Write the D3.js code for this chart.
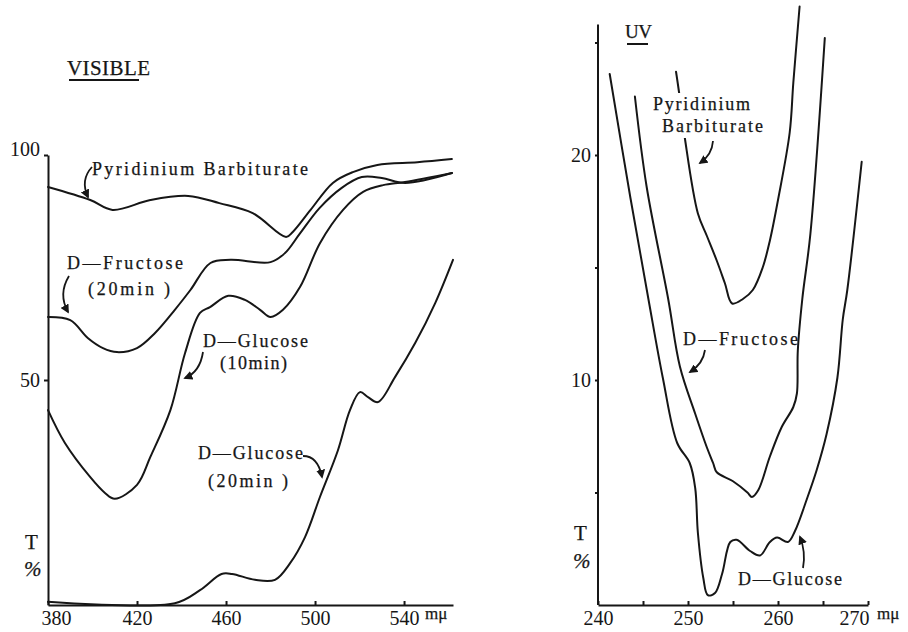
<!DOCTYPE html>
<html>
<head>
<meta charset="utf-8">
<script src="https://cdn.jsdelivr.net/npm/d3@7"></script>
<style>
  body { margin: 0; background: #fff; }
  svg { display: block; font-family: 'Liberation Serif', 'DejaVu Serif', serif; }
  .curve { fill: none; stroke: #161616; stroke-width: 2; stroke-linejoin: round; stroke-linecap: round; }
  .axis path, .axis line { stroke: #161616; stroke-width: 2; }
  .axis text { font-family: 'Liberation Serif', serif; font-size: 20px; fill: #161616; }
  .label { fill: #161616; stroke: #161616; stroke-width: 0.25; }
  .arrow { fill: none; stroke: #161616; stroke-width: 1.8; }
</style>
</head>
<body>
<svg width="908" height="632"></svg>
<script>
// ---- VISIBLE panel (wavelength mμ, transmittance %) ----
const visPyridNm = [380, 399, 409, 426, 443, 457, 472, 487, 490, 498, 508, 517, 528, 546, 561.5];
const visPyridT  = [92.9, 90, 87.8, 90, 90.9, 89.3, 87.1, 81.8, 82.9, 87.8, 93.8, 96.2, 97.8, 98.4, 99.1];

const visFrucNm = [380, 390, 398, 404.7, 411, 420, 428, 437, 444, 453, 462, 480, 486.5, 493, 502, 512, 521, 530, 540.5, 561.5];
const visFrucT  = [64, 63.3, 59.3, 57.1, 56.2, 57.1, 60.4, 65.6, 70, 76, 76.7, 76.2, 78.2, 82.4, 88.2, 92.7, 95.1, 94.9, 93.8, 96];

const visGlu10Nm = [380, 387.6, 399, 405.6, 410, 420, 426, 435, 441.6, 448.3, 452.8, 461, 468.5, 475.3, 480, 485.6, 493.3, 502.2, 512.6, 521.6, 530.6, 540.4, 561.6];
const visGlu10T  = [43.3, 36, 28.4, 24.9, 23.6, 26.7, 32.9, 43.3, 56, 64.9, 66.2, 68.7, 67.8, 65.6, 64, 65.6, 70.7, 80.4, 87.8, 91.8, 93.3, 94, 96];

const visGlu20Nm = [380, 437, 448.3, 458, 462.7, 473, 482, 488.8, 495.5, 502.2, 510.3, 515.7, 520.2, 523.8, 528.3, 536, 545, 554, 562];
const visGlu20T  = [0.7, 0.4, 3.3, 6.9, 6.9, 5.6, 5.6, 9.3, 15.1, 24, 34.4, 43.3, 47.3, 46.2, 45.1, 50.7, 58.2, 67.1, 76.7];

const visXTicks = [380, 420, 460, 500, 540];
const visYTicks = [50, 100];

// ---- UV panel ----
const uvPyridNm = [248.67, 249, 249.67, 251.1, 252.1, 253.2, 254.1, 254.9, 256.1, 257.2, 258.3, 259.1, 260, 261.3, 261.7, 262.4];
const uvPyridT  = [23.7, 22.8, 20.7, 17.4, 16.4, 15.3, 14.3, 13.4, 13.6, 14, 15, 16.2, 18, 21, 23.2, 26.6];

const uvFrucNm = [244.1, 245.4, 247.8, 249.1, 250.8, 252.1, 252.8, 253.2, 255, 256.6, 257.1, 257.8, 259.1, 260.4, 261.7, 262.1, 262.2, 262.7, 263.6, 265.2];
const uvFrucT  = [22.6, 18.6, 13.6, 10.6, 8.5, 7, 6.3, 5.9, 5.5, 5, 4.8, 5.1, 6.6, 7.9, 8.8, 9.4, 11.3, 13.6, 16.5, 25.2];

const uvGluNm = [241.3, 243.6, 245.6, 247.2, 248.8, 250.2, 250.8, 251.1, 251.7, 252.2, 253, 253.8, 254.7, 255.4, 256.9, 258, 259.1, 259.9, 261.1, 261.9, 263.2, 264.3, 265.4, 266.6, 267.2, 267.7, 269.3];
const uvGluT  = [23.6, 18.1, 13.6, 10.1, 7.2, 6.3, 5.2, 3.2, 1.2, 0.44, 0.53, 1.4, 2.8, 2.9, 2.4, 2.2, 2.8, 3, 2.8, 3.3, 4.7, 6, 7.6, 10.1, 12.7, 14, 19.7];

const uvXTicks = [240, 245, 250, 255, 260, 265, 270];
const uvYTicks = [5, 10, 15, 20, 25];

const svg = d3.select('svg');
const ink = '#161616';

svg.append('defs').append('marker')
    .attr('id', 'head')
    .attr('viewBox', '0 0 10 10')
    .attr('refX', 8).attr('refY', 5)
    .attr('markerWidth', 5).attr('markerHeight', 5)
    .attr('orient', 'auto')
  .append('path')
    .attr('d', 'M0,0 L10,5 L0,10 z')
    .attr('fill', ink);

const line = (x, y) => d3.line()
  .x(d => x(d[0]))
  .y(d => y(d[1]))
  .curve(d3.curveCatmullRom.alpha(0.5));

// ---------- left panel ----------
const xL = d3.scaleLinear().domain([380, 562]).range([48, 453]);
const yL = d3.scaleLinear().domain([0, 100]).range([605, 155]);

const gL = svg.append('g');

const yAxisL = gL.append('g').attr('class', 'axis')
  .attr('transform', `translate(${xL(380)},0)`)
  .call(d3.axisLeft(yL).tickValues(visYTicks).tickSize(4).tickSizeOuter(0).tickPadding(4));
yAxisL.selectAll('.tick text').filter(d => d === 100).attr('dy', '0');

const xAxisL = gL.append('g').attr('class', 'axis')
  .attr('transform', `translate(0,${yL(0)})`)
  .call(d3.axisBottom(xL).tickValues(visXTicks).tickSize(-4).tickSizeOuter(0).tickPadding(6));
xAxisL.selectAll('.tick text').filter(d => d === 380).attr('dx', 8);

[[visPyridNm, visPyridT], [visFrucNm, visFrucT], [visGlu10Nm, visGlu10T], [visGlu20Nm, visGlu20T]]
  .forEach(([nm, t]) => {
    gL.append('path').attr('class', 'curve').attr('d', line(xL, yL)(d3.zip(nm, t)));
  });

// ---------- right panel ----------
const xR = d3.scaleLinear().domain([240, 270]).range([598, 868]);
const yR = d3.scaleLinear().domain([0, 25.8]).range([605, 24.5]);

const gR = svg.append('g');

gR.append('g').attr('class', 'axis')
  .attr('transform', `translate(${xR(240)},0)`)
  .call(d3.axisLeft(yR).tickValues(uvYTicks).tickSize(3).tickSizeOuter(0).tickPadding(4)
    .tickFormat(d => (d % 10 === 0 ? d : '')));
gR.select('.axis .domain').attr('d', `M0,${yR(0)}V${yR(25.8)}`);

const xAxisR = gR.append('g').attr('class', 'axis')
  .attr('transform', `translate(0,${yR(0)})`)
  .call(d3.axisBottom(xR).tickValues(uvXTicks).tickSize(-4).tickSizeOuter(0).tickPadding(6)
    .tickFormat(d => (d % 10 === 0 ? d : '')));
xAxisR.selectAll('.tick text').filter(d => d === 270).attr('text-anchor', 'end').attr('dx', 1);

[[uvPyridNm, uvPyridT], [uvFrucNm, uvFrucT], [uvGluNm, uvGluT]]
  .forEach(([nm, t]) => {
    gR.append('path').attr('class', 'curve').attr('d', line(xR, yR)(d3.zip(nm, t)));
  });

// ---------- text and arrows ----------
const text = (x, y, str, len, size) => {
  const t = svg.append('text')
    .attr('class', 'label')
    .attr('x', x).attr('y', y)
    .style('font-size', (size || 18) + 'px')
    .text(str);
  if (len) t.attr('textLength', len).attr('lengthAdjust', 'spacing');
  return t;
};

const arrow = d => svg.append('path').attr('class', 'arrow')
  .attr('d', d).attr('marker-end', 'url(#head)');

// titles
text(67, 75, 'VISIBLE', 83, 21);
svg.append('line').attr('x1', 69).attr('x2', 139).attr('y1', 80).attr('y2', 80)
  .attr('stroke', ink).attr('stroke-width', 2);
text(625, 38, 'UV', 27, 19);
svg.append('line').attr('x1', 627).attr('x2', 648).attr('y1', 44).attr('y2', 44)
  .attr('stroke', ink).attr('stroke-width', 2);

// axis units
text(25, 549, 'T', null, 21);
text(24, 576, '%', null, 21).style('font-style', 'italic');
text(574, 540, 'T', null, 21);
text(573, 568, '%', null, 21).style('font-style', 'italic');
text(425, 619, 'mμ', null, 17);
text(877, 619, 'mμ', null, 17);

// left curve labels
text(92, 175, 'Pyridinium Barbiturate', 216);
arrow('M92,167 Q80,180 88,197');
text(67, 269, 'D—Fructose', 116);
text(88, 295, '(20min )', 82);
arrow('M69,276 Q58,294 68,312');
text(203, 347, 'D—Glucose', 105);
text(220, 369, '(10min)', 67);
arrow('M203,352 Q200,372 185,378');
text(198, 459, 'D—Glucose', 105);
text(208, 487, '(20min )', 80);
arrow('M303,456 Q318,456 322,477');

// right curve labels (white block gives the break in the curve)
svg.append('rect').attr('x', 650).attr('y', 93).attr('width', 116).attr('height', 45).attr('fill', '#fff');
text(653, 110, 'Pyridinium', 97);
text(662, 132, 'Barbiturate', 101);
arrow('M713,141 Q712,155 700,163');
text(683, 345, 'D—Fructose', 115);
arrow('M705,350 Q703,364 690,372');
text(738, 585, 'D—Glucose', 104);
arrow('M803,568 Q806,552 800,537');
</script>
</body>
</html>
